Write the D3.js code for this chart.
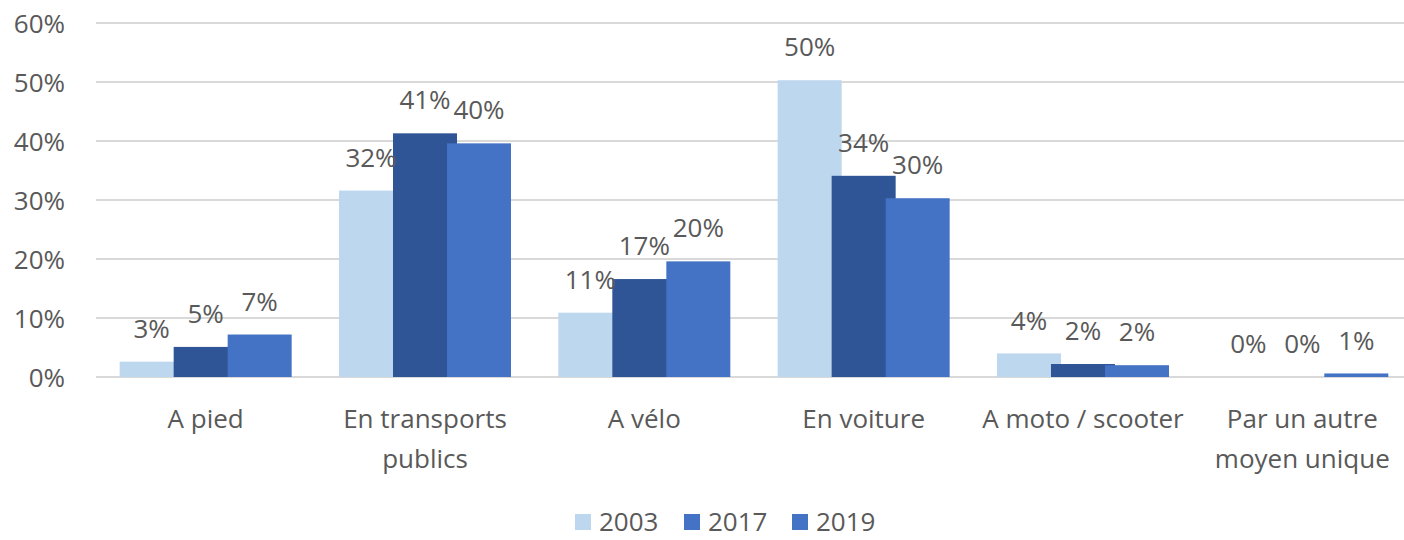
<!DOCTYPE html>
<html>
<head>
<meta charset="utf-8">
<script src="https://cdn.jsdelivr.net/npm/d3@7"></script>
<style>
  body { margin: 0; background: #fff; }
  svg text { font-family: "Open Sans", Lato, sans-serif; fill: #595959; }
</style>
</head>
<body>
<div id="chart"></div>
<script>
// data
const categories = ['A pied', 'En transports publics', 'A vélo', 'En voiture', 'A moto / scooter', 'Par un autre moyen unique']
const catLines = [['A pied'], ['En transports', 'publics'], ['A vélo'], ['En voiture'], ['A moto / scooter'], ['Par un autre', 'moyen unique']]
const years = ['2003', '2017', '2019']
const v2003 = [0.026, 0.316, 0.109, 0.503, 0.040, 0.000]
const v2017 = [0.051, 0.413, 0.166, 0.341, 0.022, 0.000]
const v2019 = [0.072, 0.396, 0.196, 0.303, 0.020, 0.006]
const yTicks = [0, 0.1, 0.2, 0.3, 0.4, 0.5, 0.6]

const barColors = ['#BDD7EE', '#2F5597', '#4472C4']
const legendColors = ['#BDD7EE', '#4472C4', '#4472C4']

// dimensions
const dim = { width: 1404, height: 540, left: 96, top: 23, bottom: 377 }
const step = 219.33
const barW = 64
const fontSize = 26

const svg = d3.select('#chart')
    .append('svg')
    .attr('width', dim.width)
    .attr('height', dim.height)

const xScale = d3.scaleBand()
    .domain(categories)
    .range([dim.left, dim.left + step * categories.length])
    .padding(0)

// bars overlap a little, so offsets come from a point scale
const offScale = d3.scalePoint()
    .domain(years)
    .range([-54, 54])

const yScale = d3.scaleLinear()
    .domain([0, 0.6])
    .range([dim.bottom, dim.top])

const fmt = d3.format('.0%')

// gridlines
svg.append('g')
    .selectAll('line')
    .data(yTicks)
    .join('line')
    .attr('x1', dim.left)
    .attr('x2', dim.width)
    .attr('y1', d => yScale(d))
    .attr('y2', d => yScale(d))
    .attr('stroke', '#d9d9d9')
    .attr('stroke-width', 2)

// y labels
const yAxis = d3.axisLeft(yScale).tickValues(yTicks).tickFormat(fmt).tickSize(0).tickPadding(0)
svg.append('g')
    .attr('transform', 'translate(65,0)')
    .call(yAxis)
    .call(g => g.select('.domain').remove())
    .selectAll('text')
    .attr('font-size', fontSize)
    .attr('font-family', '"Open Sans", sans-serif')
    .attr('fill', '#595959')
    .attr('dy', '0.35em')

// bars
const series = years.map((y, i) => ({
    key: y,
    color: barColors[i],
    values: [v2003, v2017, v2019][i].map((v, j) => ({ cat: categories[j], v: v }))
}))

const groups = svg.append('g')
    .selectAll('g')
    .data(series)
    .join('g')
    .attr('fill', d => d.color)

groups.selectAll('rect')
    .data(d => d.values.map(e => ({ ...e, key: d.key })))
    .join('rect')
    .attr('x', d => xScale(d.cat) + xScale.bandwidth() / 2 + offScale(d.key) - barW / 2)
    .attr('y', d => yScale(d.v))
    .attr('width', barW)
    .attr('height', d => yScale(0) - yScale(d.v))

// value labels
const labels = svg.append('g')
series.forEach(s => {
    labels.selectAll(null)
        .data(s.values)
        .join('text')
        .attr('x', d => xScale(d.cat) + xScale.bandwidth() / 2 + offScale(s.key))
        .attr('y', d => yScale(d.v) - 33)
        .attr('dy', '0.35em')
        .attr('text-anchor', 'middle')
        .attr('font-size', fontSize)
        .text(d => fmt(d.v))
})

// category labels
svg.append('g')
    .selectAll('text')
    .data(categories)
    .join('text')
    .attr('x', d => xScale(d) + xScale.bandwidth() / 2)
    .attr('y', 419)
    .attr('text-anchor', 'middle')
    .attr('font-size', fontSize)
    .each(function(d, i){
        d3.select(this).selectAll('tspan')
            .data(catLines[i])
            .join('tspan')
            .attr('x', xScale(d) + xScale.bandwidth() / 2)
            .attr('dy', (t, k) => k === 0 ? '0.35em' : 40)
            .text(t => t)
    })

// legend
const legendX = [575, 684, 792]
const legend = svg.append('g')
    .selectAll('g')
    .data(years)
    .join('g')
    .attr('transform', (d, i) => `translate(${legendX[i]}, 522)`)
legend.append('rect')
    .attr('x', 0)
    .attr('y', -8)
    .attr('width', 16)
    .attr('height', 16)
    .attr('fill', (d, i) => legendColors[i])
legend.append('text')
    .attr('x', 24)
    .attr('dy', '0.35em')
    .attr('font-size', fontSize)
    .text(d => d)
</script>
</body>
</html>
